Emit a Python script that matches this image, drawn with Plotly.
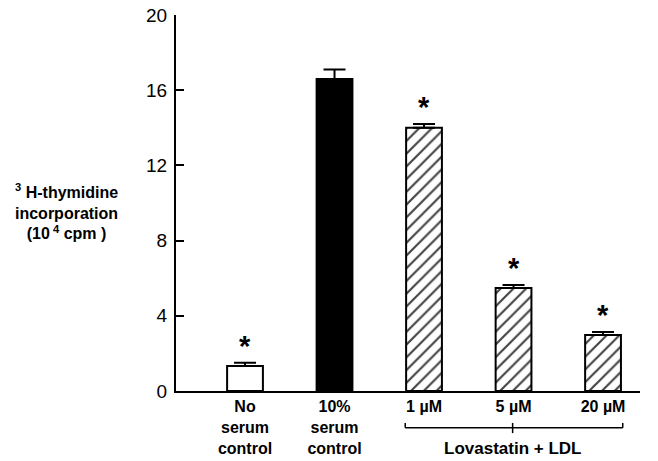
import plotly.graph_objects as go

categories = ["No<br>serum<br>control", "10%<br>serum<br>control", "1 µM", "5 µM", "20 µM"]
values = [1.33, 16.6, 14.0, 5.48, 2.98]
err_top = [1.5, 17.1, 14.2, 5.64, 3.14]
significant = [True, False, True, True, True]
bar_colors = ["white", "black", "white", "white", "white"]
patterns = ["", "", "/", "/", "/"]
y_ticks = [0, 4, 8, 12, 16, 20]
group_label = "Lovastatin + LDL"

FONT = "Liberation Sans, Arial, sans-serif"
xpos = list(range(len(categories)))
errs = [t - v for t, v in zip(err_top, values)]

fig = go.Figure()
fig.add_trace(go.Bar(
    x=xpos, y=values, width=0.40,
    marker=dict(color=bar_colors, line=dict(color="black", width=2),
                pattern=dict(shape=patterns, fgcolor="black", fgopacity=1,
                             size=9, solidity=0.24)),
    error_y=dict(type="data", array=errs, arrayminus=[0]*len(errs), symmetric=False,
                 color="black", thickness=2, width=11),
    showlegend=False,
))
fig.add_trace(go.Scatter(x=[], y=[], yaxis="y2", showlegend=False))

for i, (t, s) in enumerate(zip(err_top, significant)):
    if s:
        fig.add_annotation(x=i, y=t, text="<b>*</b>", showarrow=False, yanchor="bottom",
                           yshift=-1, font=dict(family=FONT, size=29, color="black"))

# group bracket
line_style = dict(color="black", width=1.5)
fig.add_shape(type="line", xref="x", yref="paper", x0=1.79, x1=4.22, y0=-0.098, y1=-0.098, line=line_style)
fig.add_shape(type="line", xref="x", yref="paper", x0=1.79, x1=1.79, y0=-0.098, y1=-0.085, line=line_style)
fig.add_shape(type="line", xref="x", yref="paper", x0=4.22, x1=4.22, y0=-0.098, y1=-0.085, line=line_style)
fig.add_shape(type="line", xref="x", yref="paper", x0=2.99, x1=2.99, y0=-0.085, y1=-0.112, line=line_style)
fig.add_annotation(x=2.99, y=-0.152, xref="x", yref="paper", text="<b>" + group_label + "</b>",
                   showarrow=False, yanchor="middle", font=dict(family=FONT, size=17, color="black"))

# y-axis title
fig.add_annotation(
    xref="paper", yref="paper", x=-0.235, y=0.477, xanchor="center", yanchor="middle",
    text="<b><sup>3</sup> H-thymidine<br>incorporation<br>(10<sup> 4</sup> cpm )</b>",
    showarrow=False, align="center", font=dict(family=FONT, size=16, color="black"))

fig.update_layout(
    width=658, height=461,
    margin=dict(l=176, r=18, t=15, b=70, autoexpand=False),
    paper_bgcolor="white", plot_bgcolor="white",
    font=dict(family=FONT, color="black"),
    xaxis=dict(range=[-0.771, 4.413], tickvals=xpos, automargin=False,
               ticktext=["<b>" + c + "</b>" for c in categories],
               tickfont=dict(family=FONT, size=16, color="black"),
               showline=True, linecolor="black", linewidth=2, ticks="",
               showgrid=False, zeroline=False),
    yaxis=dict(range=[0, 20], tickvals=y_ticks, ticks="", automargin=False,
               ticklabelstandoff=3,
               tickfont=dict(family=FONT, size=19, color="black"),
               showline=True, linecolor="black", linewidth=2,
               showgrid=False, zeroline=False),
    yaxis2=dict(range=[0, 20], overlaying="y", side="left", tickvals=y_ticks[1:-1],
                ticks="inside", ticklen=8, tickwidth=2, tickcolor="black", automargin=False,
                showticklabels=False, showline=False, showgrid=False, zeroline=False),
)

fig.write_html("out.html", config={"displayModeBar": False},
               post_script="document.body.style.margin='0';")
